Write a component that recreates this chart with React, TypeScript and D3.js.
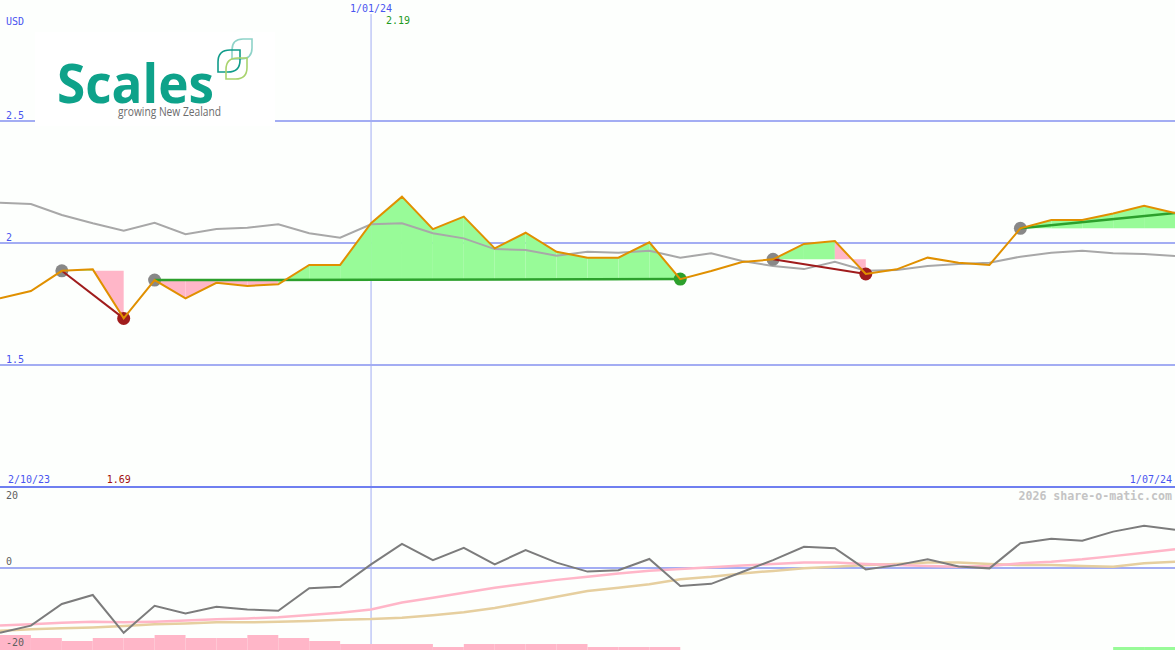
import React from 'react';
import * as d3 from 'd3';

// ---- data ----
const dateLabels = ['2/10/23', '1/01/24', '1/07/24'];
const dateLabelIdx = [0, 12, 38];
const currency = 'USD';
const price = [1.773, 1.803, 1.886, 1.892, 1.691, 1.848, 1.773, 1.837, 1.824, 1.831, 1.91, 1.91, 2.081, 2.19, 2.057, 2.108, 1.978, 2.042, 1.964, 1.94, 1.94, 2.003, 1.852, 1.885, 1.922, 1.933, 1.996, 2.008, 1.873, 1.892, 1.94, 1.919, 1.91, 2.06, 2.094, 2.094, 2.121, 2.153, 2.123];
const priceMA = [2.165, 2.16, 2.115, 2.081, 2.05, 2.083, 2.036, 2.057, 2.063, 2.077, 2.04, 2.022, 2.077, 2.081, 2.04, 2.019, 1.975, 1.971, 1.948, 1.964, 1.96, 1.968, 1.94, 1.958, 1.926, 1.906, 1.893, 1.923, 1.886, 1.889, 1.906, 1.914, 1.919, 1.944, 1.96, 1.968, 1.958, 1.955, 1.947];
const oscMain = [-18.0, -16.0, -10.0, -7.5, -18.0, -10.5, -12.6, -10.75, -11.5, -11.9, -5.6, -5.2, 1.0, 6.7, 2.2, 5.6, 1.0, 5.0, 1.5, -1.0, -0.6, 2.5, -5.0, -4.4, -1.1, 2.2, 5.9, 5.5, -0.4, 0.8, 2.4, 0.4, -0.1, 6.9, 8.1, 7.6, 10.1, 11.75, 10.6];
const oscPink = [-16.0, -15.6, -15.2, -14.9, -15.1, -14.9, -14.6, -14.25, -14.0, -13.7, -13.05, -12.4, -11.5, -9.6, -8.25, -6.9, -5.5, -4.4, -3.3, -2.4, -1.5, -0.75, -0.3, 0.2, 0.7, 1.1, 1.5, 1.5, 1.1, 0.8, 0.55, 0.35, 0.55, 1.3, 1.75, 2.4, 3.3, 4.25, 5.2];
const oscTan = [-17.4, -17.0, -16.75, -16.5, -16.1, -15.6, -15.4, -15.1, -15.1, -14.9, -14.7, -14.4, -14.2, -13.8, -13.1, -12.3, -11.1, -9.6, -8.0, -6.4, -5.5, -4.5, -3.1, -2.4, -1.5, -0.8, -0.1, 0.35, 0.8, 1.1, 1.5, 1.5, 1.1, 0.8, 0.8, 0.55, 0.35, 1.3, 1.75];
const barVals = [-5, -4, -3, -4, -4, -5, -4, -4, -5, -4, -3, -2, -2, -2, -1, -2, -2, -2, -2, -1, -1, -1, 0, 0, 0, 0, 0, 0, 0, 0, 0, 0, 0, 0, 0, 0, 1, 1];
const priceTicks = [1.5, 2, 2.5];
const oscTicks = [-20, 0, 20];
const trendStart = [2, 5, 25, 33];
const trendEnd = [4, 22, 28, 38];
const copyright = '2026 share-o-matic.com';

// ---- styles ----
const W = 1175;
const H = 650;
const BG = '#fdfffd';
const GRID = '#a3adf3';
const BORDER = '#6f7ff0';
const LABEL_BLUE = '#4a55f0';
const ORANGE = '#e09000';
const GRAY = '#a8a8a8';
const GREEN_FILL = '#98fb98';
const PINK_FILL = '#ffb6c8';
const GREEN_LINE = '#2ca02c';
const RED_LINE = '#a01c1c';
const MARKER_GRAY = '#888888';
const FONT = '"DejaVu Sans Mono", monospace';

export default function App() {
  const n = price.length;
  const x = d3.scaleLinear().domain([0, n - 1]).range([0, W]);
  const y = d3.scaleLinear().domain([1, 3]).range([487, -1]);
  const yo = d3.scaleLinear().domain([-20, 20]).range([640, 496]);
  const yb = d3.scaleLinear().domain([0, 5]).range([650, 635]);

  const priceLine = d3.line<number>().x((_, i) => x(i)).y((d) => y(d));
  const oscLine = d3.line<number>().x((_, i) => x(i)).y((d) => yo(d));

  const hiIdx = d3.maxIndex(price);
  const loIdx = d3.minIndex(price);

  const fills: { d: string; c: string }[] = [];
  trendStart.forEach((s, k) => {
    const e = trendEnd[k];
    const level = price[s];
    for (let i = s; i < e; i++) {
      const d = `M${x(i)},${y(level)}L${x(i)},${y(price[i])}L${x(i + 1)},${y(price[i + 1])}L${x(i + 1)},${y(level)}Z`;
      fills.push({ d, c: price[i + 1] >= level ? GREEN_FILL : PINK_FILL });
    }
  });

  const leaf = (x0: number, y0: number, s: number) => {
    const r = s * 0.55;
    const x1 = x0 + s;
    const y1 = y0 + s;
    return `M${x0},${y1}L${x0},${y0 + r}Q${x0},${y0} ${x0 + r},${y0}L${x1},${y0}L${x1},${y1 - r}Q${x1},${y1} ${x1 - r},${y1}Z`;
  };

  const oscLabelY = (t: number) => (t < 0 ? Math.min(646, yo(t) + 6) : Math.max(499, yo(t) - 3));

  return (
    <div style={{ position: 'absolute', left: 0, top: 0, width: W, height: H, overflow: 'hidden' }}>
      <svg width={W} height={H} style={{ display: 'block' }} fontFamily={FONT}>
        <rect x={0} y={0} width={W} height={H} fill={BG} />

        {priceTicks.map((t) => (
          <g key={t}>
            <line x1={0} x2={W} y1={y(t)} y2={y(t)} stroke={GRID} strokeWidth={2} />
            <text x={6} y={y(t) - 2} fontSize={10} fill={LABEL_BLUE}>{String(t)}</text>
          </g>
        ))}
        <text x={6} y={25} fontSize={10} fill={LABEL_BLUE}>{currency}</text>

        <line x1={x(dateLabelIdx[1])} x2={x(dateLabelIdx[1])} y1={14} y2={644} stroke={GRID} strokeWidth={1} />

        {fills.map((f, i) => (
          <path key={i} d={f.d} fill={f.c} stroke="none" />
        ))}

        <path d={priceLine(priceMA) || ''} fill="none" stroke={GRAY} strokeWidth={2} />

        {trendStart.map((s, k) => {
          const e = trendEnd[k];
          const up = price[e] >= price[s];
          return (
            <g key={'m' + k}>
              <circle cx={x(s)} cy={y(price[s])} r={6.5} fill={MARKER_GRAY} />
              {e < n - 1 && <circle cx={x(e)} cy={y(price[e])} r={6.5} fill={up ? GREEN_LINE : RED_LINE} />}
            </g>
          );
        })}

        {trendStart.map((s, k) => {
          const e = trendEnd[k];
          const up = price[e] >= price[s];
          return (
            <line key={'t' + k} x1={x(s)} y1={y(price[s])} x2={x(e)} y2={y(price[e])} stroke={up ? GREEN_LINE : RED_LINE} strokeWidth={up ? 2.5 : 2} />
          );
        })}

        <path d={priceLine(price) || ''} fill="none" stroke={ORANGE} strokeWidth={2} />

        {/* logo */}
        <g>
          <rect x={35} y={32} width={240} height={94} fill="#ffffff" />
          <path d={leaf(232, 39, 20)} fill="none" stroke="#8fd3c9" strokeWidth={1.6} />
          <path d={leaf(218, 50, 22)} fill="none" stroke="#119c8a" strokeWidth={1.6} />
          <path d={leaf(226, 58, 21)} fill="none" stroke="#a9d36e" strokeWidth={1.6} />
          <text x={57} y={103} fontFamily="'Open Sans', sans-serif" fontWeight={700} fontSize={54} fill="#0ea28a" textLength={157} lengthAdjust="spacingAndGlyphs">Scales</text>
          <text x={118} y={116} fontFamily="'Open Sans', sans-serif" fontSize={12.5} fill="#6c6c6c" textLength={103} lengthAdjust="spacingAndGlyphs">growing New Zealand</text>
        </g>

        <text x={x(dateLabelIdx[1])} y={12} fontSize={10} fill={LABEL_BLUE} textAnchor="middle">{dateLabels[1]}</text>
        <text x={x(hiIdx) - 4} y={24} fontSize={10} fill="#1f9a1f" textAnchor="middle">{price[hiIdx].toFixed(2)}</text>

        <text x={8} y={483} fontSize={10} fill={LABEL_BLUE}>{dateLabels[0]}</text>
        <text x={x(loIdx) - 5} y={483} fontSize={10} fill="#a01010" textAnchor="middle">{price[loIdx].toFixed(2)}</text>
        <text x={1172} y={483} fontSize={10} fill={LABEL_BLUE} textAnchor="end">{dateLabels[2]}</text>
        <line x1={0} x2={W} y1={487} y2={487} stroke={BORDER} strokeWidth={2} />
        <text x={1172} y={500} fontSize={11.6} fontWeight="bold" fill="#c4c4c4" textAnchor="end">{copyright}</text>

        <line x1={0} x2={W} y1={yo(0)} y2={yo(0)} stroke={GRID} strokeWidth={2} />
        {barVals.map((v, i) =>
          v === 0 ? null : (
            <rect key={'b' + i} x={x(i)} y={yb(Math.abs(v))} width={x(i + 1) - x(i)} height={yb(0) - yb(Math.abs(v))} fill={v < 0 ? PINK_FILL : GREEN_FILL} />
          )
        )}
        <path d={oscLine(oscTan) || ''} fill="none" stroke="#e6cf9f" strokeWidth={2.5} />
        <path d={oscLine(oscPink) || ''} fill="none" stroke="#ffb6c8" strokeWidth={2.5} />
        <path d={oscLine(oscMain) || ''} fill="none" stroke="#7c7c7c" strokeWidth={2} />
        {oscTicks.map((t) => (
          <text key={'o' + t} x={6} y={oscLabelY(t)} fontSize={10} fill="#606060">{String(t)}</text>
        ))}
      </svg>
    </div>
  );
}
